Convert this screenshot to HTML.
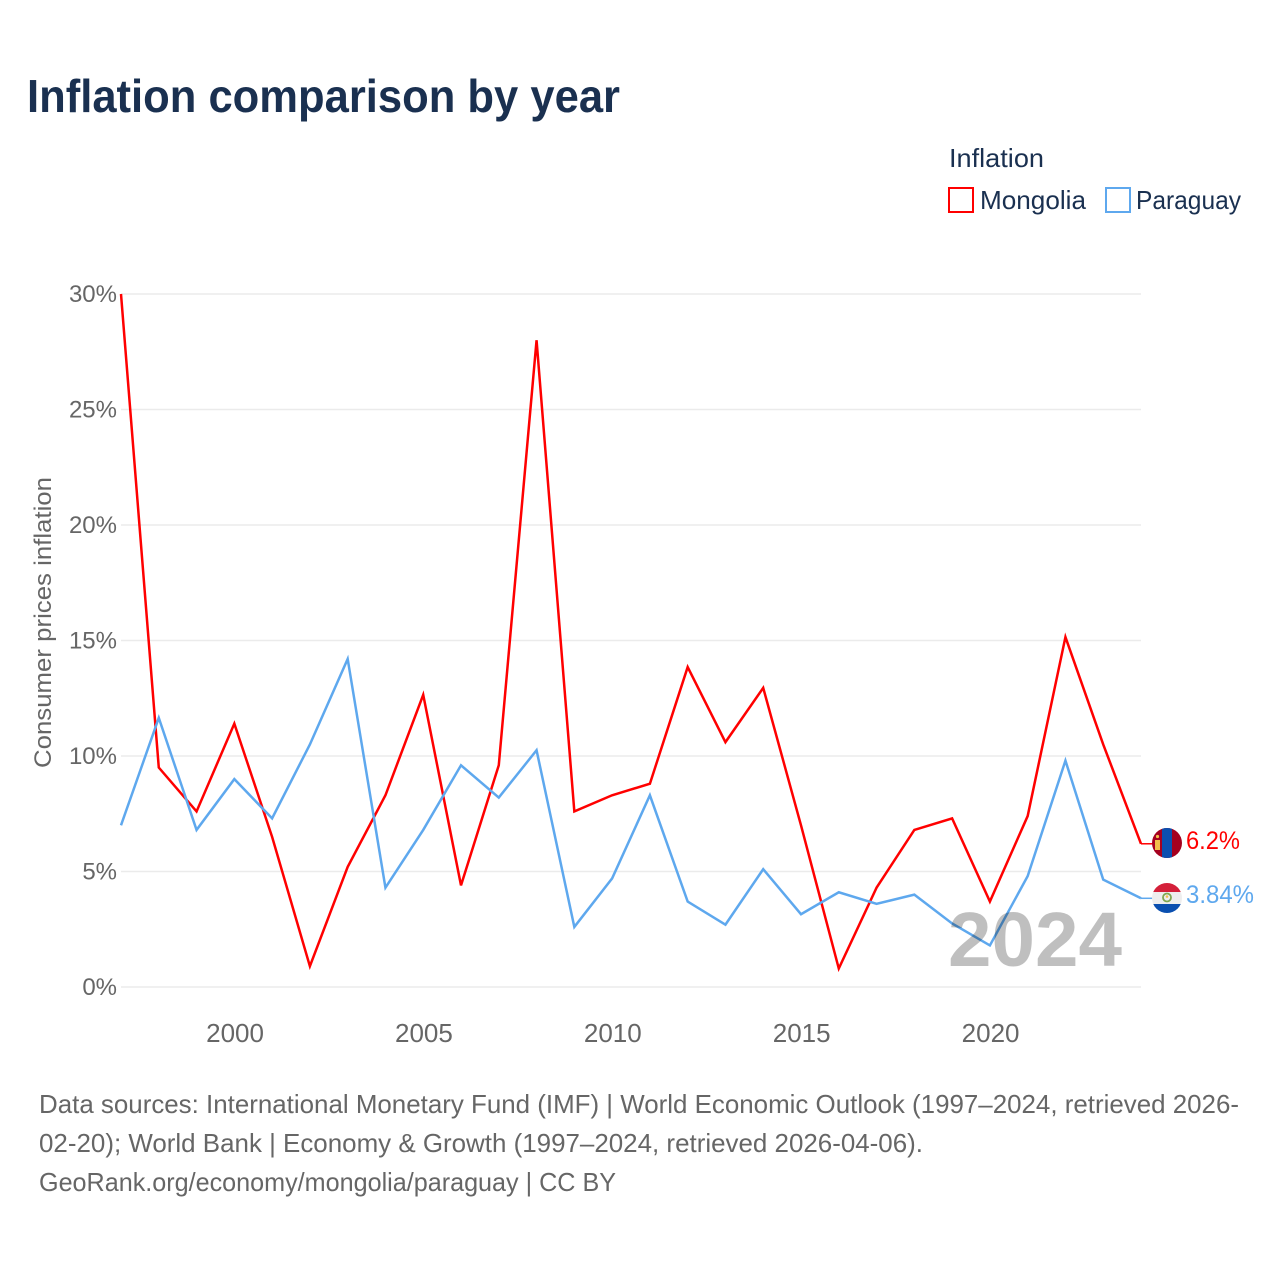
<!DOCTYPE html>
<html><head><meta charset="utf-8"><title>Inflation comparison by year</title>
<style>
html,body{margin:0;padding:0;background:#fff;width:1280px;height:1280px;overflow:hidden}
svg{display:block;font-family:"Liberation Sans",sans-serif}
</style></head>
<body>
<svg id="chart" width="1280" height="1280" viewBox="0 0 1280 1280" xmlns="http://www.w3.org/2000/svg">
<defs>
<clipPath id="flag-clip-mn"><circle cx="1167" cy="843" r="15"/></clipPath>
<clipPath id="flag-clip-py"><circle cx="1167" cy="898" r="15"/></clipPath>
</defs>
<text x="27" y="112" font-size="46" font-weight="700" fill="#1a3050" textLength="593" lengthAdjust="spacingAndGlyphs">Inflation comparison by year</text>
<text x="949" y="167" font-size="26" fill="#1a3050" textLength="95" lengthAdjust="spacingAndGlyphs">Inflation</text>
<rect x="949" y="188" width="24" height="24" fill="#fff" stroke="#ff0000" stroke-width="2"/>
<text x="980" y="209" font-size="26" fill="#1a3050" textLength="106" lengthAdjust="spacingAndGlyphs">Mongolia</text>
<rect x="1106" y="188" width="24" height="24" fill="#fff" stroke="#5ea8ee" stroke-width="2"/>
<text x="1136" y="209" font-size="26" fill="#1a3050" textLength="105" lengthAdjust="spacingAndGlyphs">Paraguay</text>
<text transform="translate(51,768) rotate(-90)" font-size="24" fill="#666" textLength="291" lengthAdjust="spacingAndGlyphs">Consumer prices inflation</text>
<g id="y-grid"></g>
<g id="x-axis"></g>
<g id="series"></g>
<text x="948" y="966" font-size="77" font-weight="700" fill="#000000" fill-opacity="0.25" textLength="174" lengthAdjust="spacingAndGlyphs">2024</text>
<g clip-path="url(#flag-clip-mn)">
<rect x="1152" y="828" width="30" height="30" fill="#a5001f"/>
<rect x="1162" y="828" width="10" height="30" fill="#0a4fb0"/>
<rect x="1155" y="840" width="5" height="10" fill="#f2c04a"/>
<circle cx="1157.5" cy="836.5" r="1.6" fill="#f2c04a"/>
</g>
<g clip-path="url(#flag-clip-py)">
<rect x="1152" y="883" width="30" height="9" fill="#d4203a"/>
<rect x="1152" y="892" width="30" height="12" fill="#eeeeee"/>
<rect x="1152" y="904" width="30" height="9" fill="#0a4fb0"/>
<circle cx="1167" cy="897.5" r="4" fill="none" stroke="#7fa650" stroke-width="1.8"/>
<circle cx="1167" cy="896.5" r="1.3" fill="#f2c04a"/>
</g>
<text id="end-mn" x="1186" y="849" font-size="25" fill="#ff0000" textLength="54" lengthAdjust="spacingAndGlyphs"></text>
<text id="end-py" x="1186" y="903" font-size="25" fill="#5ea8ee" textLength="68" lengthAdjust="spacingAndGlyphs"></text>
<g font-size="26" fill="#666">
<text x="39" y="1113" textLength="1200" lengthAdjust="spacingAndGlyphs">Data sources: International Monetary Fund (IMF) | World Economic Outlook (1997–2024, retrieved 2026-</text>
<text x="39" y="1152" textLength="884" lengthAdjust="spacingAndGlyphs">02-20); World Bank | Economy &amp; Growth (1997–2024, retrieved 2026-04-06).</text>
<text x="39" y="1191" textLength="577" lengthAdjust="spacingAndGlyphs">GeoRank.org/economy/mongolia/paraguay | CC BY</text>
</g>
</svg>
<script>
const years = [1997,1998,1999,2000,2001,2002,2003,2004,2005,2006,2007,2008,2009,2010,2011,2012,2013,2014,2015,2016,2017,2018,2019,2020,2021,2022,2023,2024];
const mongolia = [30,9.5,7.6,11.4,6.5,0.9,5.2,8.3,12.65,4.4,9.6,28,7.6,8.3,8.8,13.85,10.6,12.95,7,0.8,4.3,6.8,7.3,3.7,7.4,15.15,10.5,6.2];
const paraguay = [7,11.65,6.8,9,7.3,10.5,14.2,4.3,6.8,9.6,8.2,10.25,2.6,4.7,8.3,3.7,2.7,5.1,3.15,4.1,3.6,4,2.75,1.8,4.8,9.8,4.65,3.84];
const yTicks = [0,5,10,15,20,25,30];
const xTicks = [2000,2005,2010,2015,2020];

const NS = 'http://www.w3.org/2000/svg';
const xScale = function (yr) { return 121 + (yr - 1997) * (1141 - 121) / (2024 - 1997); };
const yScale = function (v) { return 987 - v * (987 - 294) / 30; };

const yGroup = document.getElementById('y-grid');
yTicks.forEach(function (t) {
  const line = document.createElementNS(NS, 'line');
  
  
  line.setAttribute('x1', 121);
  line.setAttribute('x2', 1141);
  line.setAttribute('y1', yScale(t));
  line.setAttribute('y2', yScale(t));
  line.setAttribute('stroke', '#ebebeb');
  line.setAttribute('stroke-width', '1.5');
  yGroup.appendChild(line);
  const label = document.createElementNS(NS, 'text');
  
  
  label.setAttribute('x', 117);
  label.setAttribute('y', yScale(t) + 8);
  label.setAttribute('text-anchor', 'end');
  label.setAttribute('font-size', '24');
  label.setAttribute('fill', '#666');
  label.textContent = t + '%';
  yGroup.appendChild(label);
});

const xGroup = document.getElementById('x-axis');
xTicks.forEach(function (t) {
  const label = document.createElementNS(NS, 'text');
  
  
  label.setAttribute('x', xScale(t) + 0.7);
  label.setAttribute('y', 1042);
  label.setAttribute('text-anchor', 'middle');
  label.setAttribute('font-size', '26');
  label.setAttribute('fill', '#666');
  label.textContent = t;
  xGroup.appendChild(label);
});

function pointsFor(values) {
  return values.map(function (v, i) { return xScale(years[i]).toFixed(2) + ',' + yScale(v).toFixed(2); }).join(' ');
}

const seriesGroup = document.getElementById('series');

const lineMn = document.createElementNS(NS, 'polyline');


lineMn.setAttribute('points', pointsFor(mongolia));
lineMn.setAttribute('fill', 'none');
lineMn.setAttribute('stroke', '#ff0000');
lineMn.setAttribute('stroke-width', '2.5');
seriesGroup.appendChild(lineMn);

const linePy = document.createElementNS(NS, 'polyline');


linePy.setAttribute('points', pointsFor(paraguay));
linePy.setAttribute('fill', 'none');
linePy.setAttribute('stroke', '#5ea8ee');
linePy.setAttribute('stroke-width', '2.5');
seriesGroup.appendChild(linePy);

const connMn = document.createElementNS(NS, 'line');


connMn.setAttribute('x1', xScale(2024));
connMn.setAttribute('x2', 1153);
connMn.setAttribute('y1', yScale(mongolia[mongolia.length - 1]));
connMn.setAttribute('y2', yScale(mongolia[mongolia.length - 1]));
connMn.setAttribute('stroke', '#ff0000');
connMn.setAttribute('stroke-width', '1.5');
seriesGroup.appendChild(connMn);

const connPy = document.createElementNS(NS, 'line');


connPy.setAttribute('x1', xScale(2024));
connPy.setAttribute('x2', 1153);
connPy.setAttribute('y1', yScale(paraguay[paraguay.length - 1]));
connPy.setAttribute('y2', yScale(paraguay[paraguay.length - 1]));
connPy.setAttribute('stroke', '#5ea8ee');
connPy.setAttribute('stroke-width', '1.5');
seriesGroup.appendChild(connPy);

document.getElementById('end-mn').textContent = mongolia[mongolia.length - 1] + '%';
document.getElementById('end-py').textContent = paraguay[paraguay.length - 1] + '%';
</script>
</body></html>
